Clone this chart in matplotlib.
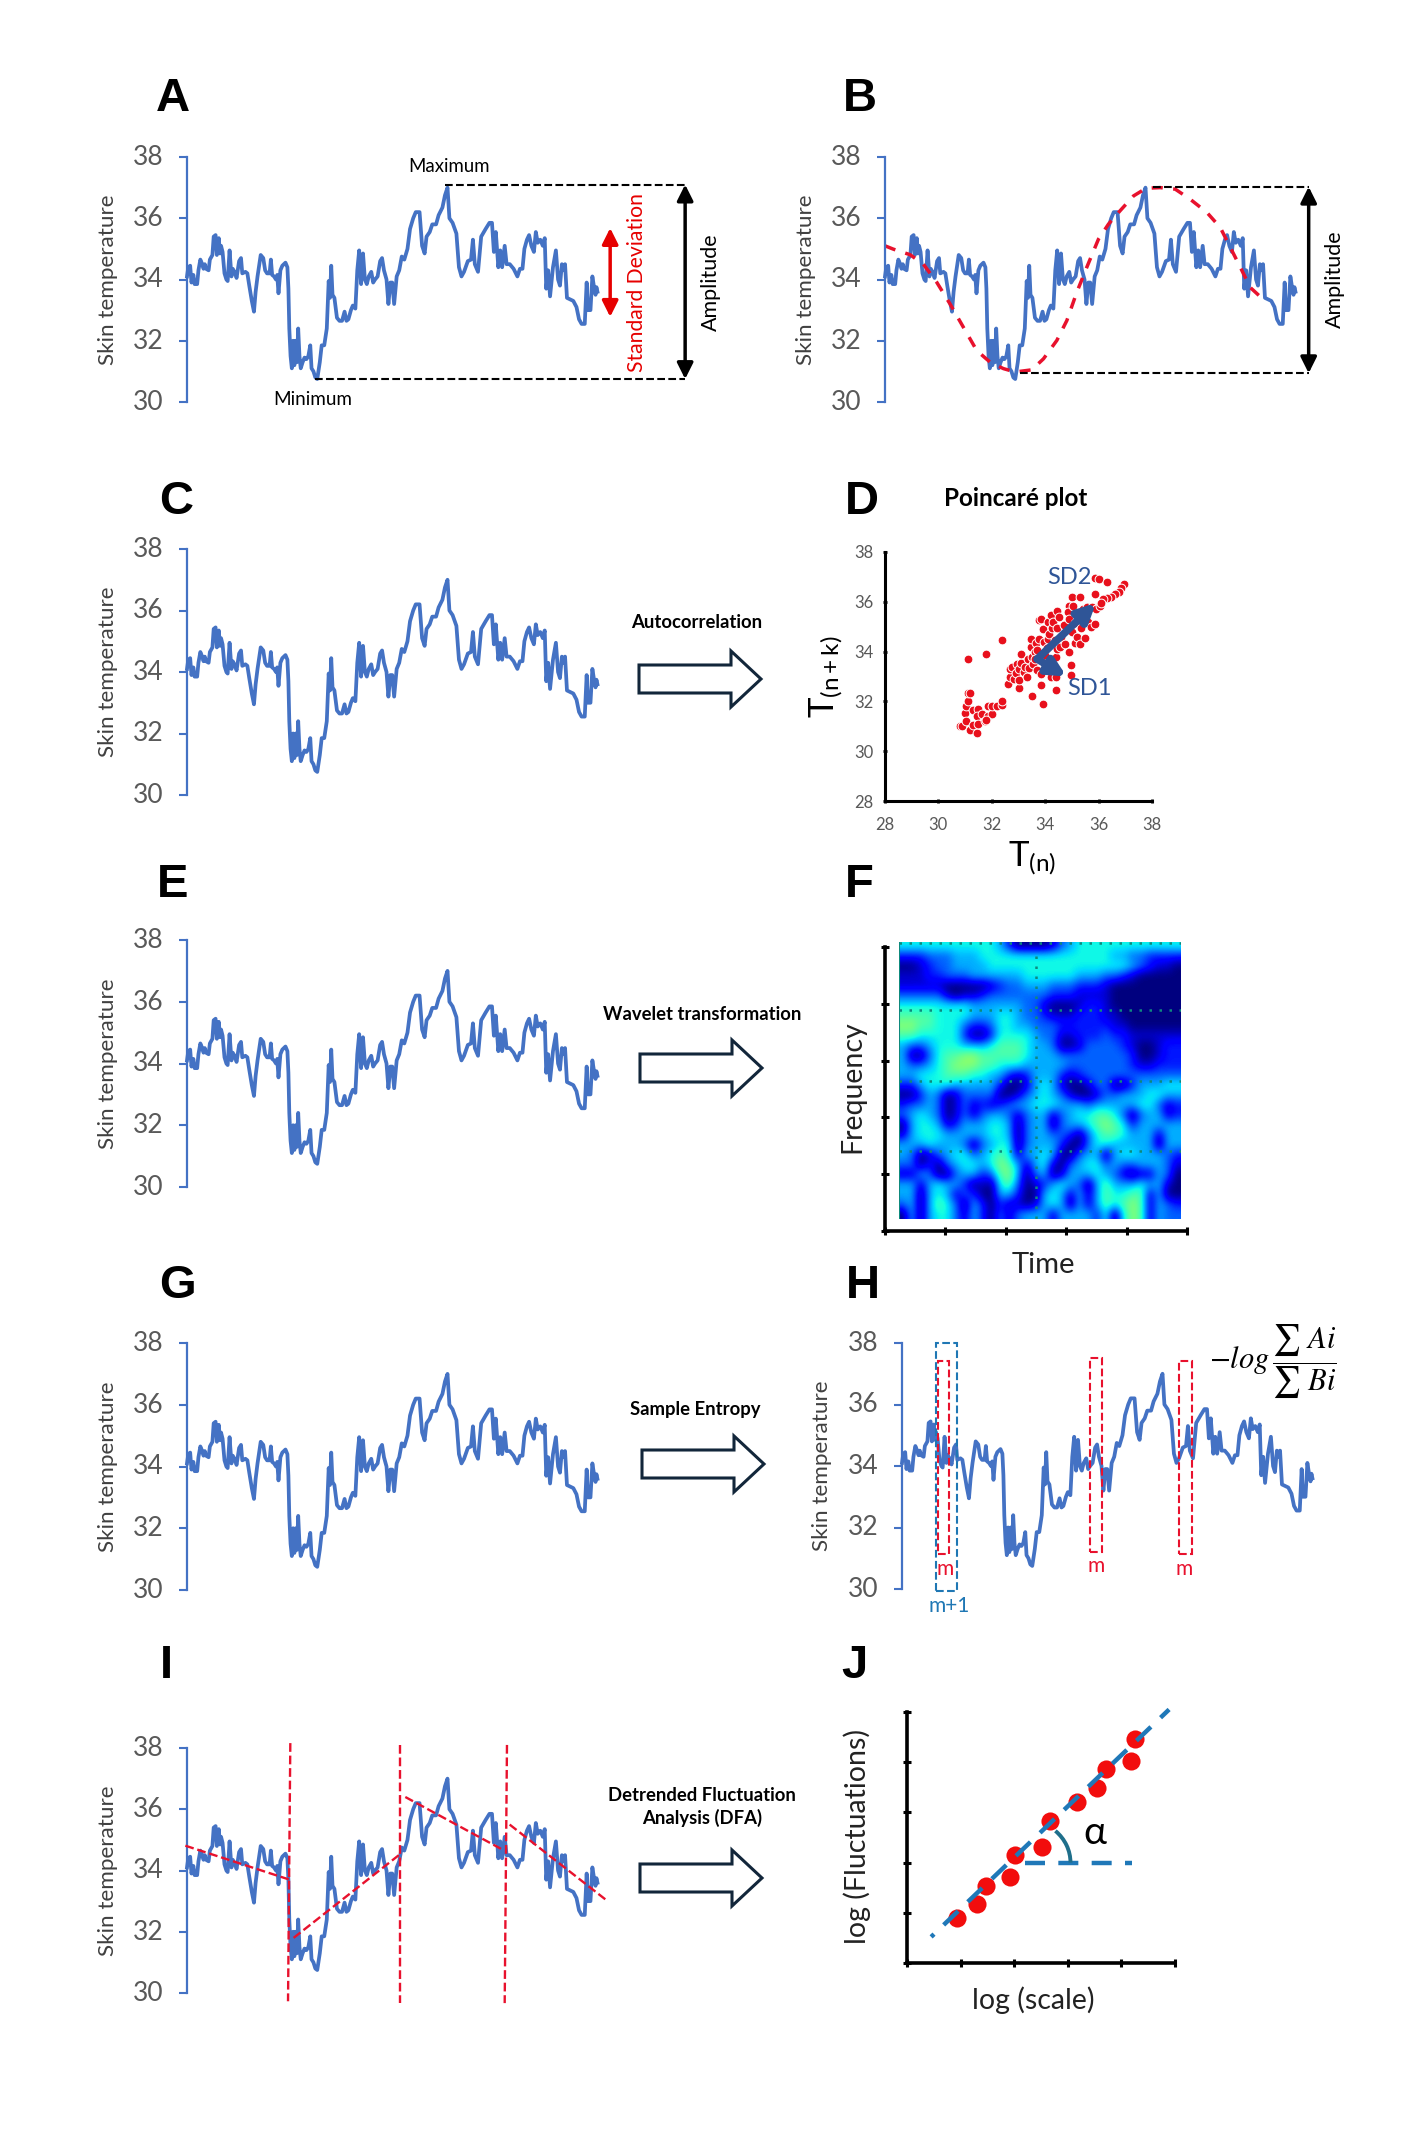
import numpy as np
import matplotlib
matplotlib.use("Agg")
import matplotlib.pyplot as plt
from matplotlib.patches import Polygon, Rectangle, Arc
from matplotlib.transforms import ScaledTranslation

plt.rcParams['font.family'] = ['Lato', 'DejaVu Sans']
plt.rcParams['mathtext.fontset'] = 'custom'
plt.rcParams['mathtext.rm'] = 'Lato'
plt.rcParams['mathtext.it'] = 'Lato:italic'

W, H = 1425, 2149

# skin temperature trace
skin_t = [0, 1, 2.5, 3.5, 5, 6, 8, 9, 10.5, 12, 13, 14, 15, 17, 18, 20, 21, 22.5, 23.5, 25, 26, 26.8, 28, 29.5, 31,
          32, 33.5, 35, 36, 38, 39, 41, 42.5, 43.5, 46, 47.5, 49, 51, 52.7, 54, 55.5, 58, 60, 61.5, 63, 65, 66, 67,
          68.5, 70, 71, 72, 73.5, 75, 77.5, 79, 79.8, 80.5, 81.5, 82.5, 83.5, 84.5, 85.5, 86.5, 87.5, 88.5, 89.5, 91,
          92.5, 94, 95.5, 97, 98, 99.5, 101, 102.5, 104.5, 106, 108, 110, 111.5, 112.5, 113.5, 114.5, 116, 118, 120,
          122, 124, 125.5, 127, 129, 130.5, 132.5, 134, 135.5, 137, 138.5, 140, 141.5, 143, 145, 146.5, 148, 150, 152,
          153.5, 155, 157, 158.5, 160, 161.5, 163, 165, 167, 169, 171, 173.5, 175.5, 178, 180, 183, 185, 187, 188.5,
          191, 193, 196, 198, 201, 203, 205, 206.5, 209, 212, 214, 216, 218, 221, 223.5, 225, 226.5, 229, 231.5, 235,
          238, 240, 241.5, 243, 245, 246.5, 248, 250, 251.5, 254, 257, 260, 262, 264, 265.5, 267.5, 269.2, 271, 273,
          274.5, 276, 278, 280, 281.5, 282.7, 284.2, 285.7, 288, 290.3, 292, 293.5, 295, 296.5, 297.5, 299, 301.5,
          304, 306.5, 308.5, 310.5, 313, 314.5, 315.5, 317.5, 319, 320.5, 321.5, 322.2, 323]
skin_v = [34.1, 34.4, 34.45, 33.9, 34.15, 33.85, 33.85, 34.3, 34.65, 34.5, 34.35, 34.5, 34.35, 34.3, 34.65, 34.8, 35.4,
          35.45, 34.8, 35.35, 34.85, 35.1, 34.9, 34.2, 34.0, 33.95, 34.95, 34.1, 34.35, 34.2, 34.05, 34.6, 34.7, 34.2,
          34.25, 34.2, 33.8, 33.3, 32.95, 33.6, 34.1, 34.8, 34.7, 34.3, 34.2, 34.2, 34.65, 34.15, 34.1, 34.0, 34.15,
          33.55, 34.3, 34.45, 34.55, 34.4, 33.7, 32.4, 31.5, 31.1, 32.0, 31.2, 32.0, 31.3, 32.4, 31.5, 31.1, 31.3,
          31.45, 31.4, 31.5, 31.85, 31.1, 31.0, 30.8, 30.75, 31.3, 31.85, 31.85, 32.4, 33.95, 33.4, 34.45, 33.5, 33.4,
          32.75, 32.65, 32.65, 32.95, 32.65, 32.7, 33.0, 33.15, 33.05, 34.3, 34.95, 33.85, 34.85, 34.0, 33.85, 34.1,
          34.25, 33.9, 34.0, 34.1, 34.6, 34.7, 34.3, 34.0, 33.2, 33.9, 33.9, 33.2, 34.1, 34.3, 34.75, 34.65, 35.0,
          35.65, 36.0, 36.2, 36.2, 35.1, 34.85, 35.4, 35.55, 35.8, 35.8, 36.1, 36.35, 36.75, 37.0, 36.0, 35.85, 35.5,
          34.4, 34.1, 34.25, 34.6, 34.65, 35.3, 34.5, 34.25, 35.4, 35.65, 35.85, 35.85, 34.9, 35.55, 34.4, 34.95, 34.4,
          35.1, 34.5, 34.5, 34.35, 34.1, 34.35, 34.35, 35.0, 35.3, 35.45, 35.1, 34.9, 35.55, 35.2, 35.3, 35.1, 35.35,
          33.7, 34.3, 33.45, 34.4, 34.95, 34.0, 33.8, 34.5, 34.3, 34.5, 33.4, 33.35, 33.3, 33.1, 32.7, 32.55, 32.55,
          33.9, 33.0, 33.0, 34.1, 33.7, 33.5, 33.75, 33.6]
skin_ticks = [30, 32, 34, 36, 38]

# red fitted curve in panel B
curve_t = [0, 6.6, 19.7, 30.2, 40.7, 51.2, 61.7, 72.2, 82.7, 93.2, 102.4, 115.5, 124.7, 135.2, 143.1, 150.9, 158.8,
           168, 175.9, 185.1, 195.6, 205.5, 216.6, 228.4, 240.2, 253.3, 263.8, 271.7, 279.6, 287.4, 294.5]
curve_v = [35.10, 34.99, 34.81, 34.50, 33.91, 33.2, 32.44, 31.68, 31.3, 31.09, 30.98, 31.05, 31.41, 32.01, 32.66, 33.58,
           34.4, 35.32, 35.81, 36.25, 36.73, 36.98, 37.0, 36.95, 36.62, 36.19, 35.7, 35.05, 34.4, 33.74, 33.47]

# Poincare scatter
poin_x = [30.8, 30.9, 31.0, 31.05, 31.1, 31.1, 31.2, 31.05, 31.2, 31.3, 31.45, 31.3, 31.5, 31.45, 31.5, 31.65, 31.75,
          31.85, 31.85, 32.0, 32.0, 31.8, 32.2, 32.4, 32.4, 31.1, 31.8, 32.4, 33.5, 33.9, 34.4, 33.85,
          35.85, 36.0, 36.3, 36.95, 36.85, 36.75, 36.6, 36.45, 36.3, 36.15, 36.0, 35.85, 34.9,
          32.6, 32.7, 32.7, 32.75, 32.85, 32.9, 32.95, 33.0, 33.0, 33.0, 33.1, 33.1, 33.2, 33.25, 33.3, 33.35, 33.4,
          33.45, 33.45, 33.5, 33.55, 33.6, 33.6, 33.65, 33.7, 33.7, 33.75, 33.75, 33.85, 33.85, 33.9, 33.95, 33.95,
          34.0, 34.05, 34.1, 34.1, 34.15, 34.2, 34.2, 34.25, 34.3, 34.3, 34.35, 34.4, 34.4, 34.45, 34.45, 34.45, 34.5,
          34.55, 34.6, 34.7, 34.75, 34.85, 34.9, 34.9, 34.95, 34.95, 35.0, 35.0, 35.05, 35.1, 35.1, 35.2, 35.25, 35.3,
          35.3, 35.35, 35.4, 35.5, 35.55, 35.6, 35.7, 35.75, 35.85, 35.9, 36.05, 36.1]
poin_y = [31.0, 31.0, 31.55, 31.8, 32.0, 32.35, 32.35, 31.2, 30.85, 31.05, 30.75, 31.65, 31.7, 31.4, 31.1, 31.5, 31.2,
          31.4, 31.8, 31.5, 31.8, 31.25, 31.8, 31.85, 32.0, 33.7, 33.9, 34.45, 32.2, 31.9, 32.45, 32.65,
          36.95, 36.9, 36.8, 36.7, 36.55, 36.4, 36.3, 36.2, 36.15, 36.1, 35.85, 36.3, 35.85,
          32.7, 33.0, 33.3, 33.4, 32.9, 33.15, 33.5, 32.55, 32.85, 33.3, 33.55, 33.9, 33.2, 33.4, 33.0, 33.7, 33.35,
          34.2, 34.5, 33.8, 33.5, 34.0, 33.7, 34.35, 34.05, 33.25, 34.5, 35.25, 35.3, 33.1, 34.9, 34.4, 33.55,
          33.85, 34.15, 34.5, 35.2, 34.7, 35.45, 33.0, 34.95, 35.2, 33.4, 34.45, 33.8, 33.0, 34.1, 35.65, 34.95, 35.4,
          34.2, 34.6, 35.05, 34.3, 35.6, 35.3, 34.0, 33.45, 33.05, 34.8, 36.2, 35.85, 34.35, 35.15, 34.6, 35.5, 36.2,
          34.3, 34.95, 35.7, 34.55, 35.8, 35.2, 35.0, 35.8, 35.1, 35.7, 35.85, 35.95]
poin_ticks = [28, 30, 32, 34, 36, 38]

# wavelet power levels 0-7, one string per row, top row first
wavelet_rows = [
    "55555555555420000134555555555555",
    "22233344455555555555555544332222",
    "00123344445555555555555555432110",
    "11122333444444555555444332100000",
    "11111000001233444333222100000000",
    "33333101123333333222111100000000",
    "55555555444444331000122100000000",
    "66665555444554332111222110000000",
    "77665553223554433322222211000000",
    "66555552002555543311222322111111",
    "43345554445666544300133332100122",
    "40035667766666544433333333200122",
    "43345677766555444443333333211222",
    "44555666554421244421233333333333",
    "22455544444200145410013300244455",
    "00243013333001345431001334445544",
    "23343013121234455544434444455312",
    "34543013134431344134556653034412",
    "04554124445540344034456765244444",
    "14555444445540344332035665444144",
    "44454443034550344420035544444044",
    "43013455345651445400344045544432",
    "33020345545764145103455343344431",
    "11430034423674034014445431011430",
    "44145442010563012454304644454410",
    "44045413200442004541414655661400",
    "34046530420211014540414656761432",
    "04045531420313444144442505761433",
]
wavelet = np.array([[int(c) for c in row] for row in wavelet_rows])

# DFA points, axis units
dfa_x = [0.94, 1.30, 1.48, 1.93, 2.01, 2.51, 2.66, 3.18, 3.54, 3.72, 4.17, 4.25]
dfa_y = [0.89, 1.17, 1.54, 1.71, 2.15, 2.32, 2.82, 3.21, 3.49, 3.87, 4.02, 4.46]

# DFA segments on panel I
seg_t = [[-1.3, 80.8], [83.9, 167.9], [171.8, 249.2], [253.9, 331]]
seg_v = [[34.81, 33.70], [31.8, 34.54], [36.4, 34.66], [35.5, 33.0]]
cut_t = [[81.3, 79.5], [167.9, 167.9], [251.8, 250]]

BLUE = '#4472c4'
GREY = '#595959'
DARK = '#404040'
RED = '#e8112d'
SD_BLUE = '#2f5597'

fig = plt.figure(figsize=(W / 100, H / 100), dpi=100, facecolor='white')


def box(left, top, right, bottom):
    return fig.add_axes([left / W, 1 - bottom / H, (right - left) / W, (bottom - top) / H])


def skin_panel(left, top, bottom, label_x):
    ax = box(left, top, left + 413, bottom)
    ax.plot(skin_t, skin_v, color=BLUE, lw=2.7, solid_joinstyle='round', clip_on=False)
    ax.set_xlim(0, 325)
    ax.set_ylim(30, 38)
    ax.set_yticks(skin_ticks)
    ax.set_xticks([])
    ax.tick_params(axis='y', length=6, width=1.5, color=BLUE, labelsize=19, labelcolor=GREY, pad=11)
    lift = ScaledTranslation(0, 1.5 / 72, fig.dpi_scale_trans)
    for lab in ax.get_yticklabels():
        lab.set_transform(lab.get_transform() + lift)
    for s in ['top', 'right', 'bottom']:
        ax.spines[s].set_visible(False)
    ax.spines['left'].set_color(BLUE)
    ax.spines['left'].set_linewidth(1.6)
    ax.patch.set_alpha(0)
    note.text(label_x, (top + bottom) / 2, 'Skin temperature', rotation=90, ha='center', va='center',
              fontsize=16.2, color=DARK)
    return ax


# full page layer for letters and page level text
note = fig.add_axes([0, 0, 1, 1], zorder=5)
note.set_xlim(0, W)
note.set_ylim(H, 0)
note.axis('off')

letters = ['A', 'B', 'C', 'D', 'E', 'F', 'G', 'H', 'I', 'J']
letter_x = [173, 860, 176, 862, 173, 859, 177, 863, 166, 854]
letter_y = [99, 99, 502, 502, 885, 885, 1286, 1286, 1666, 1666]
for c, x, y in zip(letters, letter_x, letter_y):
    note.text(x, y, c, fontsize=34, fontweight='bold', family='Liberation Sans', ha='center', va='center')

# A
ax_a = skin_panel(187, 157, 402, 108)
ax_a.plot([203, 392], [37.09, 37.09], color='black', ls='--', lw=1.5, clip_on=False)
ax_a.plot([100.7, 392], [30.75, 30.75], color='black', ls='--', lw=1.5, clip_on=False)
ax_a.annotate('', xy=(392, 37.1), xytext=(392, 30.75), annotation_clip=False,
              arrowprops=dict(arrowstyle='<|-|>', color='black', lw=2.5, mutation_scale=24, shrinkA=0, shrinkB=0))
ax_a.annotate('', xy=(333, 35.68), xytext=(333, 32.78), annotation_clip=False,
              arrowprops=dict(arrowstyle='<|-|>', color='#e60000', lw=2.5, mutation_scale=24, shrinkA=0, shrinkB=0))
ax_a.text(354, 33.9, 'Standard Deviation', color='#e60000', rotation=90, ha='center', va='center', fontsize=15.2, clip_on=False)
ax_a.text(412, 33.9, 'Amplitude', rotation=90, ha='center', va='center', fontsize=15.5, clip_on=False)
ax_a.text(206, 37.68, 'Maximum', ha='center', va='center', fontsize=13.4, clip_on=False)
ax_a.text(99, 30.07, 'Minimum', ha='center', va='center', fontsize=13.6, clip_on=False)

# B
ax_b = skin_panel(885, 157, 402, 806)
ax_b.plot(curve_t, curve_v, color=RED, ls=(0, (3.2, 3)), lw=2.5, clip_on=False)
ax_b.plot([211, 333.4], [37.03, 37.03], color='black', ls='--', lw=1.5, clip_on=False)
ax_b.plot([106, 333.4], [30.94, 30.94], color='black', ls='--', lw=1.5, clip_on=False)
ax_b.annotate('', xy=(333.4, 37.03), xytext=(333.4, 30.94), annotation_clip=False,
              arrowprops=dict(arrowstyle='<|-|>', color='black', lw=2.5, mutation_scale=24, shrinkA=0, shrinkB=0))
ax_b.text(354, 34.0, 'Amplitude', rotation=90, ha='center', va='center', fontsize=15.5, clip_on=False)

# C
skin_panel(187, 549, 795, 108)

# D
ax_d = box(885, 552, 1152, 801)
ax_d.scatter(poin_x, poin_y, s=40, color='#e8101c', edgecolors='white', linewidths=0.7, clip_on=False, zorder=3)
ax_d.set_xlim(28, 38)
ax_d.set_ylim(28, 38)
ax_d.set_xticks(poin_ticks)
ax_d.set_yticks(poin_ticks)
ax_d.tick_params(length=3, width=2, direction='inout', labelsize=12, labelcolor=GREY, pad=7)
ax_d.tick_params(axis='x', pad=10)
for s in ['top', 'right']:
    ax_d.spines[s].set_visible(False)
for s in ['left', 'bottom']:
    ax_d.spines[s].set_linewidth(2.2)
for tip in [(35.9, 35.95), (34.8, 33.0)]:
    ax_d.annotate('', xy=tip, xytext=(33.7, 33.7), zorder=4,
                  arrowprops=dict(arrowstyle='-|>', color=SD_BLUE, lw=5.5, mutation_scale=26, shrinkA=0, shrinkB=0))
ax_d.text(34.9, 36.97, 'SD2', color=SD_BLUE, fontsize=17, ha='center', va='center', zorder=5)
ax_d.text(35.66, 32.52, 'SD1', color=SD_BLUE, fontsize=17, ha='center', va='center', zorder=5)
note.text(1016, 499, 'Poincaré plot', fontsize=17.5, fontweight='bold', ha='center', va='center')
note.text(826, 677, r'$\mathrm{T_{(n+k)}}$', rotation=90, fontsize=25, ha='center', va='center')
note.text(1032, 858, r'$\mathrm{T_{(n)}}$', fontsize=25, ha='center', va='center')

# E
skin_panel(187, 940, 1187, 108)

# F
ax_f = box(885, 947, 1187, 1231)
ax_f.set_xlim(0, 5)
ax_f.set_ylim(0, 5)
ax_f.set_xticks(range(6))
ax_f.set_yticks(range(6))
ax_f.set_xticklabels([])
ax_f.set_yticklabels([])
ax_f.tick_params(length=6, width=2.2, direction='inout')
for s in ['top', 'right']:
    ax_f.spines[s].set_visible(False)
for s in ['left', 'bottom']:
    ax_f.spines[s].set_linewidth(2.6)
heat = box(899, 942, 1181, 1219)
heat.imshow(wavelet, cmap='jet', vmin=0, vmax=13.5, aspect='auto', interpolation='bicubic', extent=(0, 32, 28, 0))
for y_line in [0.07, 6.87, 14.1, 21.1]:
    heat.axhline(y_line, color='#0e8a7d', ls=(0, (1, 3)), lw=1.8)
heat.plot([15.5, 15.5], [1.4, 28], color='#0e8a7d', ls=(0, (1, 3)), lw=1.8)
heat.axvline(0, color='#0e8a7d', lw=1.5)
heat.set_xlim(0, 32)
heat.set_ylim(28, 0)
heat.axis('off')
note.text(852, 1087, 'Frequency', rotation=90, fontsize=20.5, ha='center', va='center', color='#222222')
note.text(1043, 1265, 'Time', fontsize=21, ha='center', va='center', color='#222222')

# G
skin_panel(187, 1343, 1590, 108)

# H
ax_h = skin_panel(902, 1343, 1589, 822)
for t0, t1, v0, v1 in [(28.4, 37.1, 31.14, 37.41), (148.3, 157.6, 31.2, 37.5), (217.7, 227.9, 31.14, 37.41)]:
    ax_h.add_patch(Rectangle((t0, v0), t1 - t0, v1 - v0, fill=False, ec=RED, ls='--', lw=1.5, clip_on=False, zorder=4))
ax_h.add_patch(Rectangle((26.8, 29.94), 16.6, 8.06, fill=False, ec='#1f77b4', ls='--', lw=1.5, clip_on=False, zorder=4))
for t_m, v_m in [(34.2, 30.65), (152.5, 30.75), (222.0, 30.65)]:
    ax_h.text(t_m, v_m, 'm', color=RED, fontsize=15, ha='center', va='center', clip_on=False)
ax_h.text(37.5, 29.45, 'm+1', color='#1f77b4', fontsize=15, ha='center', va='center', clip_on=False)
note.text(1273, 1361, r'$-log\,\dfrac{\sum\ Ai}{\sum\ Bi}$', fontsize=22, ha='center', va='center',
          math_fontfamily='stix')

# I
ax_i = skin_panel(187, 1748, 1993, 108)
for seg_x, seg_y in zip(seg_t, seg_v):
    ax_i.plot(seg_x, seg_y, color=RED, ls='--', lw=1.7, clip_on=False, zorder=4)
for cut, y_ends in zip(cut_t, [[38.16, 29.73], [38.1, 29.67], [38.1, 29.67]]):
    ax_i.plot(cut, y_ends, color=RED, ls='--', lw=1.7, clip_on=False, zorder=4)

# J
ax_j = box(907, 1712, 1175, 1963)
ax_j.set_xlim(0, 5)
ax_j.set_ylim(0, 5)
ax_j.set_xticks(range(6))
ax_j.set_yticks(range(6))
ax_j.set_xticklabels([])
ax_j.set_yticklabels([])
ax_j.tick_params(length=6, width=2.2, direction='inout')
for s in ['top', 'right']:
    ax_j.spines[s].set_visible(False)
for s in ['left', 'bottom']:
    ax_j.spines[s].set_linewidth(2.6)
ax_j.scatter(dfa_x, dfa_y, s=170, color='#f20d0d', linewidths=0, zorder=2)
ax_j.plot([0.45, 4.89], [0.52, 5.05], color='#1f78b8', ls=(3.6, (4.5, 3)), lw=3.2, zorder=3, clip_on=False)
ax_j.plot([2.2, 4.19], [2.0, 2.0], color='#1f78b8', ls=(0, (4.5, 3)), lw=3.2, zorder=3)
ax_j.add_patch(Arc((2.2, 2.0), 1.7, 1.7, theta1=0, theta2=48, color='#1f6f8b', lw=2.8, zorder=3))
ax_j.text(3.5, 2.58, 'α', fontsize=28, ha='center', va='center')
note.text(857, 1837, 'log (Fluctuations)', rotation=90, fontsize=20.5, ha='center', va='center', color='#222222')
note.text(1033, 2000, 'log (scale)', fontsize=20.5, ha='center', va='center', color='#222222')

# method labels and block arrows
method_txt = ['Autocorrelation', 'Wavelet transformation', 'Sample Entropy', 'Detrended Fluctuation\nAnalysis (DFA)']
method_x = [697, 702, 695, 702]
method_y = [623, 1014, 1410, 1807]
arrow_x = [639, 640, 642, 640]
arrow_y = [679, 1068, 1464, 1878]
for txt, x, y in zip(method_txt, method_x, method_y):
    note.text(x, y, txt, fontsize=13.3, fontweight='bold', ha='center', va='center', linespacing=1.35)
for x0, yc in zip(arrow_x, arrow_y):
    outline = [(x0, yc - 14), (x0 + 92, yc - 14), (x0 + 92, yc - 28), (x0 + 122, yc), (x0 + 92, yc + 28),
               (x0 + 92, yc + 14), (x0, yc + 14)]
    note.add_patch(Polygon(outline, closed=True, fill=False, ec='#12263a', lw=2.2))

fig.savefig('out.png', dpi=100, facecolor='white')
